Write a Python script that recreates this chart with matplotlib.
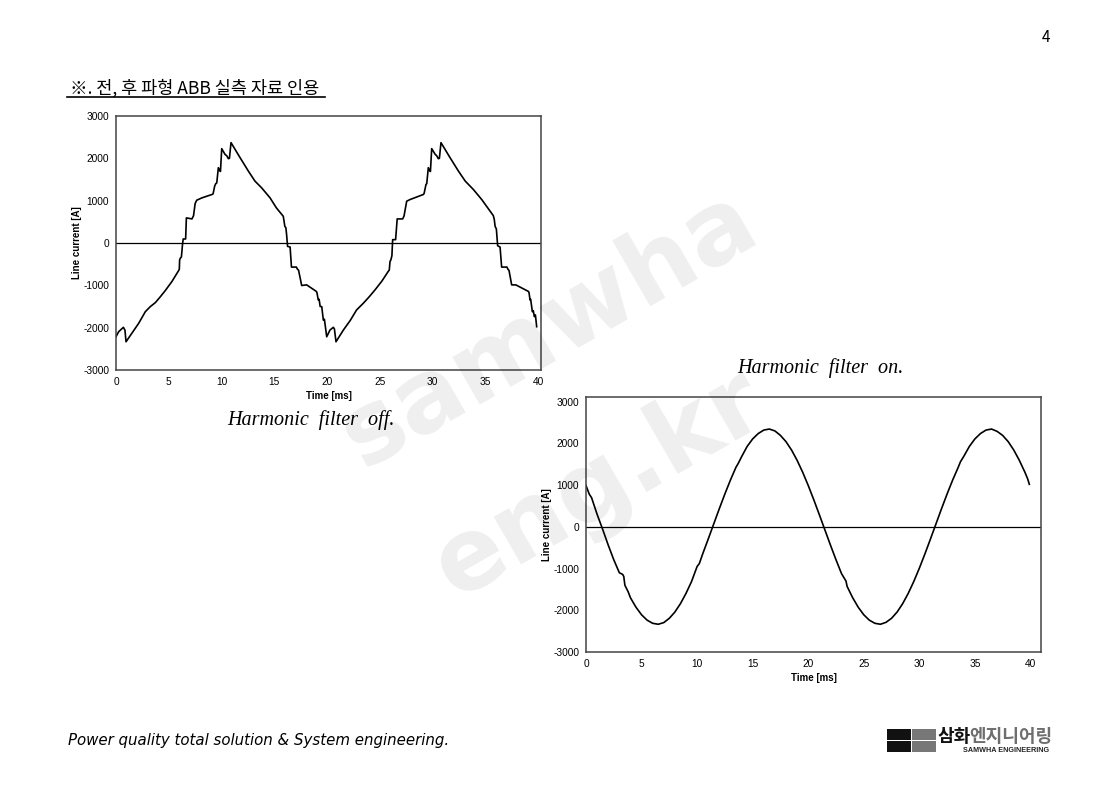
import numpy as np
import matplotlib.pyplot as plt
from matplotlib.patches import Rectangle

plt.rcParams['font.family'] = ['Liberation Sans', 'DejaVu Sans']
plt.rcParams['axes.unicode_minus'] = False

# Harmonic filter off: line current [A] vs time [ms]
t_off = [0.0, 0.25, 0.7, 0.8, 0.85, 0.95, 1.5, 2.15, 2.78, 3.25, 3.73, 4.2, 4.67, 5.3, 5.94,
         6.0, 6.03, 6.1, 6.2, 6.3, 6.37, 6.6, 6.67, 7.2, 7.35, 7.5, 7.65, 8.15, 9.1, 9.2,
         9.35, 9.45, 9.55, 9.7, 9.86, 9.9, 10.02, 10.33, 10.5, 10.65, 10.75, 10.9, 11.7,
         12.54, 13.17, 13.8, 14.6, 15.2, 15.85, 15.9, 16.0, 16.1, 16.17, 16.26, 16.5, 16.63,
         17.1, 17.2, 17.3, 17.6, 18.07, 19.0, 19.05, 19.17, 19.25, 19.35, 19.5, 19.65, 19.75,
         19.97, 20.28, 20.6, 20.7, 20.85, 21.55, 22.2, 22.8, 23.44, 24.0, 24.55, 25.2, 25.8,
         25.9, 25.97, 26.05, 26.15, 26.22, 26.5, 26.65, 27.17, 27.3, 27.55, 27.87, 29.13,
         29.2, 29.38, 29.45, 29.6, 29.75, 29.8, 29.92, 30.25, 30.4, 30.55, 30.65, 30.8, 31.6,
         32.45, 33.1, 33.87, 34.66, 35.2, 35.76, 35.85, 35.93, 36.05, 36.17, 36.4, 36.55,
         37.05, 37.15, 37.25, 37.5, 37.9, 39.1, 39.15, 39.24, 39.3, 39.46, 39.55, 39.65,
         39.75, 39.87]
i_off = [-2215, -2096, -1992, -2040, -2060, -2333, -2135, -1897, -1622, -1503, -1408, -1270,
         -1124, -910, -650, -620, -400, -356, -330, -40, 95, 95, 593, 569, 647, 932, 1011,
         1067, 1146, 1160, 1343, 1400, 1420, 1779, 1700, 1690, 2229, 2094, 2060, 1992, 2000,
         2371, 2040, 1700, 1462, 1304, 1067, 830, 632, 560, 394, 360, 197, -80, -95, -569,
         -569, -620, -640, -1004, -989, -1146, -1180, -1345, -1330, -1500, -1503, -1819,
         -1800, -2215, -2056, -1992, -2030, -2333, -2056, -1830, -1582, -1423, -1270, -1107,
         -900, -672, -640, -436, -400, -300, 79, 79, 569, 569, 640, 987, 1027, 1146, 1170,
         1383, 1400, 1779, 1700, 1690, 2229, 2094, 2060, 1992, 2000, 2371, 2040, 1700, 1462,
         1264, 1027, 840, 647, 560, 394, 330, -64, -95, -569, -569, -620, -650, -989, -990,
         -1146, -1180, -1345, -1330, -1622, -1600, -1739, -1700, -1977]

# Harmonic filter on
t_on = [0.0, 0.3, 0.5, 1.0, 1.5, 2.0, 2.5, 3.0, 3.3, 3.4, 3.5, 3.8, 4.0, 4.5, 5.0, 5.5, 6.0,
        6.5, 7.0, 7.5, 8.0, 8.5, 9.0, 9.5, 10.0, 10.2, 10.5, 11.0, 11.5, 12.0, 12.5, 13.0,
        13.5, 13.7, 14.0, 14.5, 15.0, 15.5, 16.0, 16.5, 17.0, 17.5, 18.0, 18.5, 19.0, 19.5,
        20.0, 20.5, 21.0, 21.5, 22.0, 22.5, 23.0, 23.4, 23.5, 24.0, 24.5, 25.0, 25.5, 26.0,
        26.5, 27.0, 27.5, 28.0, 28.5, 29.0, 29.5, 30.0, 30.5, 31.0, 31.5, 32.0, 32.5, 33.0,
        33.5, 33.7, 34.0, 34.5, 35.0, 35.5, 36.0, 36.5, 37.0, 37.5, 38.0, 38.5, 39.0, 39.5,
        39.75, 39.9]
i_on = [990, 780, 700, 300, -60, -437, -789, -1100, -1140, -1190, -1400, -1560, -1700, -1927,
        -2108, -2237, -2312, -2335, -2295, -2192, -2042, -1841, -1595, -1310, -950, -880, -650,
        -292, 73, 437, 789, 1123, 1430, 1520, 1680, 1927, 2108, 2237, 2320, 2345, 2300, 2192,
        2042, 1841, 1595, 1310, 992, 650, 292, -73, -437, -789, -1123, -1300, -1428, -1699,
        -1927, -2108, -2237, -2312, -2335, -2289, -2192, -2042, -1841, -1595, -1310, -992,
        -650, -292, 73, 437, 789, 1123, 1428, 1560, 1690, 1927, 2108, 2237, 2320, 2345, 2289,
        2192, 2042, 1841, 1595, 1310, 1150, 1020]

yticks = [-3000, -2000, -1000, 0, 1000, 2000, 3000]
xticks = [0, 5, 10, 15, 20, 25, 30, 35, 40]

W, H = 1117, 785
fig = plt.figure(figsize=(W / 100, H / 100), dpi=100)


def px_axes(left, top, right, bottom):
    return fig.add_axes([left / W, 1 - bottom / H, (right - left) / W, (bottom - top) / H])


def style(ax, xmax, ymax):
    ax.set_xlim(0, xmax)
    ax.set_ylim(-3000, ymax)
    ax.set_xticks(xticks)
    ax.set_yticks(yticks)
    ax.tick_params(length=0, labelsize=7.3, pad=5)
    for s in ax.spines.values():
        s.set_color('#444444')
        s.set_linewidth(1.1)
    ax.axhline(0, color='black', lw=0.9)
    ax.set_xlabel('Time [ms]', fontsize=7, fontweight='bold', labelpad=3)
    ax.set_ylabel('Line current [A]', fontsize=7, fontweight='bold', labelpad=1)


ax1 = px_axes(116, 116, 541, 370)
ax1.plot(t_off, i_off, color='black', lw=1.2)
style(ax1, 40.28, 3000)

ax2 = px_axes(586, 397, 1041, 652)
ax2.plot(t_on, i_on, color='black', lw=1.2)
style(ax2, 40.95, 3113)

# page text
fig.text(1046 / W, 1 - 38 / H, '4', fontsize=11, ha='center', va='center',
         family=['Noto Sans CJK KR', 'DejaVu Sans'])
fig.text(70 / W, 1 - 88 / H, '※. 전, 후 파형 ABB 실측 자료 인용', fontsize=12.6,
         ha='left', va='center', family=['Noto Sans CJK KR', 'DejaVu Sans'])
fig.add_artist(plt.Line2D([67 / W, 325 / W], [1 - 97 / H, 1 - 97 / H], color='black', lw=1.2))

fig.text(311 / W, 1 - 420 / H, 'Harmonic  filter  off.', fontsize=14.5, style='italic',
         family='Liberation Serif', ha='center', va='center')
fig.text(820 / W, 1 - 368 / H, 'Harmonic  filter  on.', fontsize=14.5, style='italic',
         family='Liberation Serif', ha='center', va='center')

fig.text(68 / W, 1 - 741 / H, 'Power quality total solution & System engineering.',
         fontsize=10.8, style='italic', family='DejaVu Sans', ha='left', va='center')

# logo
for (x0, y0, c) in [(887, 728, '#111111'), (912, 728, '#777777'),
                    (887, 740, '#111111'), (912, 740, '#777777')]:
    fig.add_artist(Rectangle((x0 / W, 1 - (y0 + 12) / H), 24 / W, 11.5 / H,
                             transform=fig.transFigure, color=c, lw=0))
fig.text(937 / W, 1 - 736 / H, '삼화', fontsize=13, fontweight='bold', color='#111111',
         ha='left', va='center', family=['Noto Sans CJK KR', 'DejaVu Sans'])
fig.text(969 / W, 1 - 736 / H, '엔지니어링', fontsize=13, fontweight='bold', color='#6e6e6e',
         ha='left', va='center', family=['Noto Sans CJK KR', 'DejaVu Sans'])
fig.text(1049 / W, 1 - 751 / H, 'SAMWHA ENGINEERING', fontsize=5.2, fontweight='bold',
         color='#222222', ha='right', va='center')

# watermark
fig.text(550 / W, 1 - 330 / H, 'samwha', fontsize=72, fontweight='bold', rotation=30,
         color='black', alpha=0.065, ha='center', va='center', family='DejaVu Sans')
fig.text(600 / W, 1 - 485 / H, 'eng.kr', fontsize=72, fontweight='bold', rotation=30,
         color='black', alpha=0.065, ha='center', va='center', family='DejaVu Sans')

fig.savefig('out.png', dpi=100)
